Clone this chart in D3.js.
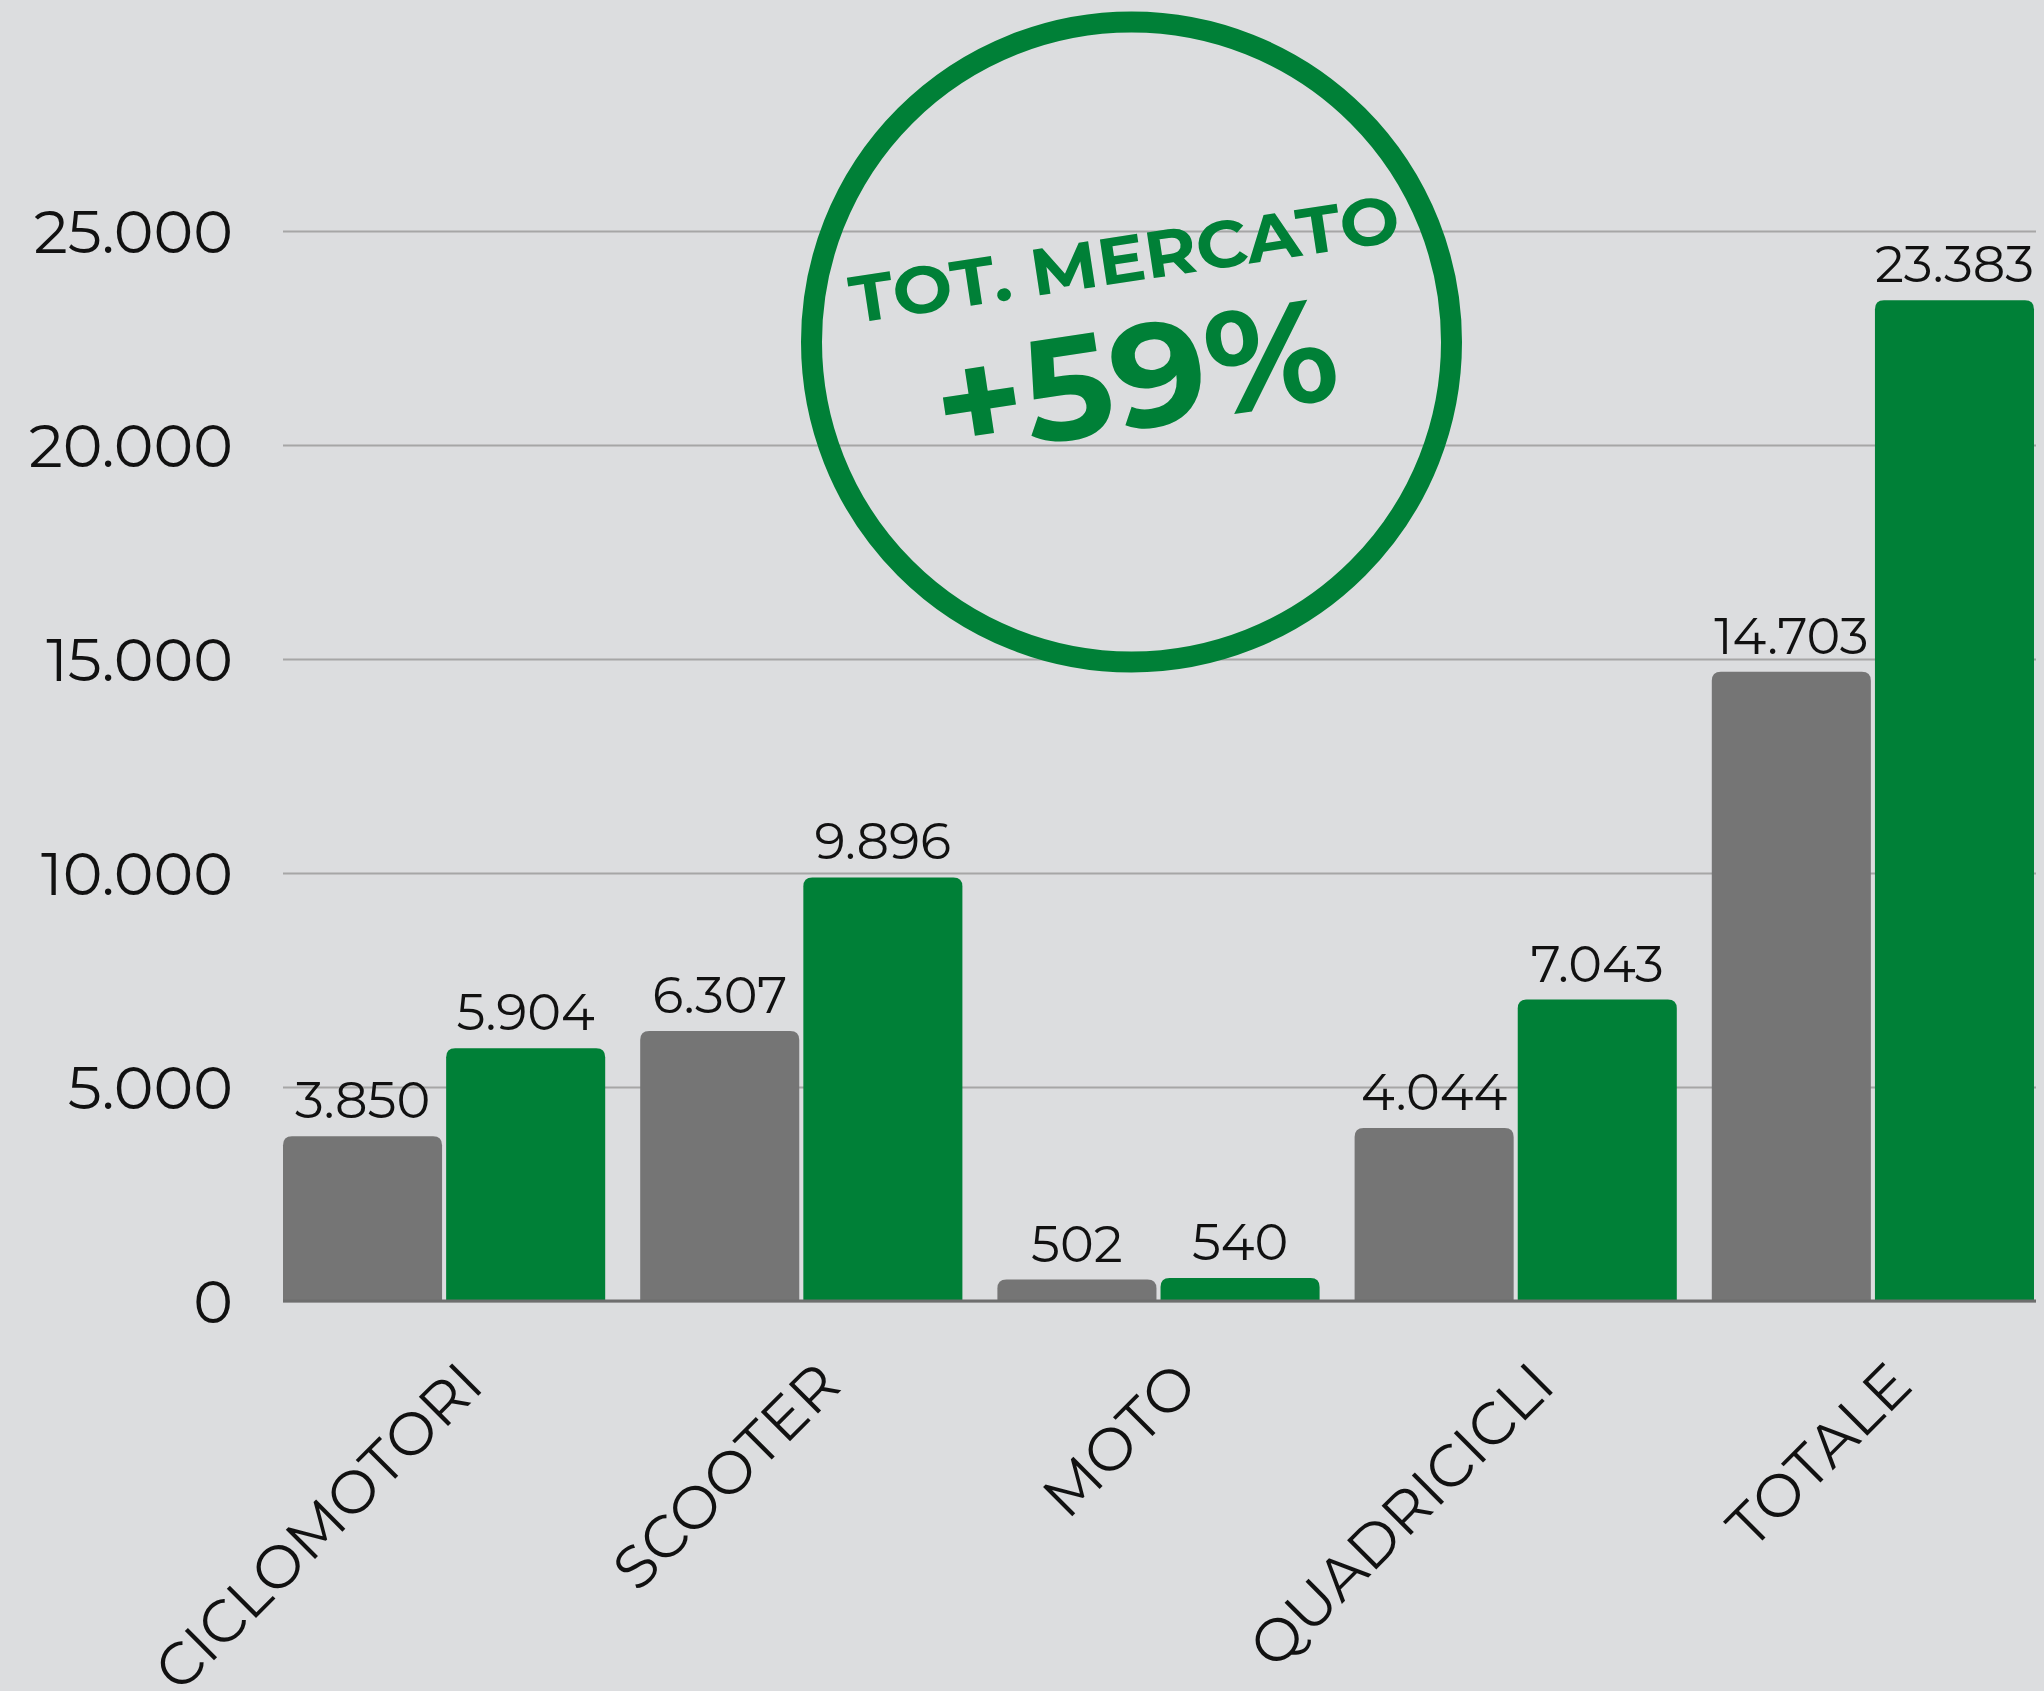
<!DOCTYPE html>
<html>
<head>
<meta charset="utf-8">
<script src="https://cdn.jsdelivr.net/npm/d3@7"></script>
<style>
  html, body { margin: 0; padding: 0; background: #dcdddf; }
  svg { display: block; }
  text { font-family: Montserrat, "DejaVu Sans", sans-serif; }
</style>
</head>
<body>
<svg width="2044" height="1691"></svg>
<script>
// data
var categories = ['CICLOMOTORI', 'SCOOTER', 'MOTO', 'QUADRICICLI', 'TOTALE'];
var seriesKeys = ['prev', 'curr'];
var prevValues = [3850, 6307, 502, 4044, 14703];
var currValues = [5904, 9896, 540, 7043, 23383];
var tickValues = [0, 5000, 10000, 15000, 20000, 25000];
var badgeTitle = 'TOT. MERCATO';
var badgeValue = '+59%';

var colors = { prev: '#757575', curr: '#008037' };

var svg = d3.select('svg');

var it = d3.formatLocale({ decimal: ',', thousands: '.', grouping: [3], currency: ['€', ''] });
var fmt = it.format(',');

// scales
var plotLeft = 283, plotRight = 2036;
var y = d3.scaleLinear().domain([0, 25000]).range([1301, 231]);
var x0 = d3.scaleBand().domain(categories).range([283, 2034]).paddingInner(0.098).paddingOuter(0);
var x1 = d3.scaleBand().domain(seriesKeys).range([0, x0.bandwidth()]).paddingInner(0.025);

// gridlines + tick labels
var yAxis = d3.axisLeft(y)
  .tickValues(tickValues)
  .tickFormat(fmt)
  .tickSizeInner(-(plotRight - plotLeft))
  .tickSizeOuter(0)
  .tickPadding(50);

var gy = svg.append('g')
  .attr('transform', 'translate(' + plotLeft + ',0)')
  .call(yAxis);
gy.select('.domain').remove();
gy.selectAll('.tick line').attr('stroke', '#a6a6a6').attr('stroke-width', 2);
gy.selectAll('.tick text')
  .attr('fill', '#111')
  .attr('font-size', 60)
  .attr('dy', '0.36em');

// rounded-top bar path
function barPath(x, yTop, w, yBase, r) {
  r = Math.min(r, (yBase - yTop), w / 2);
  return 'M' + x + ',' + yBase +
    'V' + (yTop + r) +
    'Q' + x + ',' + yTop + ' ' + (x + r) + ',' + yTop +
    'H' + (x + w - r) +
    'Q' + (x + w) + ',' + yTop + ' ' + (x + w) + ',' + (yTop + r) +
    'V' + yBase + 'Z';
}

var rows = categories.map(function(c, i) {
  return { cat: c, vals: [{ key: 'prev', value: prevValues[i] }, { key: 'curr', value: currValues[i] }] };
});

var groups = svg.append('g').selectAll('g')
  .data(rows)
  .enter().append('g')
  .attr('transform', function(d) { return 'translate(' + x0(d.cat) + ',0)'; });

groups.selectAll('path')
  .data(function(d) { return d.vals; })
  .enter().append('path')
  .attr('d', function(d) { return barPath(x1(d.key), y(d.value), x1.bandwidth(), y(0), 9); })
  .attr('fill', function(d) { return colors[d.key]; });

groups.selectAll('text.val')
  .data(function(d) { return d.vals; })
  .enter().append('text')
  .attr('class', 'val')
  .attr('x', function(d) { return x1(d.key) + x1.bandwidth() / 2; })
  .attr('y', function(d) { return y(d.value) - 18; })
  .attr('text-anchor', 'middle')
  .attr('font-size', 51)
  .attr('fill', '#111')
  .text(function(d) { return fmt(d.value); });

// baseline
svg.append('line')
  .attr('x1', plotLeft).attr('x2', plotRight)
  .attr('y1', y(0)).attr('y2', y(0))
  .attr('stroke', '#6e6e6e').attr('stroke-width', 3);

// category labels
svg.append('g').selectAll('text')
  .data(categories)
  .enter().append('text')
  .attr('transform', function(d) {
    return 'translate(' + (x0(d) + x0.bandwidth() / 2 + 42) + ',1388) rotate(-45)';
  })
  .attr('text-anchor', 'end')
  .attr('font-size', 59)
  .attr('fill', '#111')
  .text(function(d) { return d; });

// badge
var badge = svg.append('g');
badge.append('circle')
  .attr('cx', 1131.5).attr('cy', 342).attr('r', 320)
  .attr('fill', 'none')
  .attr('stroke', '#008037')
  .attr('stroke-width', 21);

badge.append('text')
  .attr('transform', 'translate(1128,282) rotate(-8.6)')
  .attr('text-anchor', 'middle')
  .attr('font-size', 66)
  .attr('font-weight', 'bold')
  .attr('fill', '#008037')
  .attr('textLength', 555)
  .attr('lengthAdjust', 'spacingAndGlyphs')
  .text(badgeTitle);

badge.append('text')
  .attr('transform', 'translate(1143,428) rotate(-8.6)')
  .attr('text-anchor', 'middle')
  .attr('font-size', 146)
  .attr('font-weight', 'bold')
  .attr('fill', '#008037')
  .attr('textLength', 405)
  .attr('lengthAdjust', 'spacingAndGlyphs')
  .text(badgeValue);
</script>
</body>
</html>
